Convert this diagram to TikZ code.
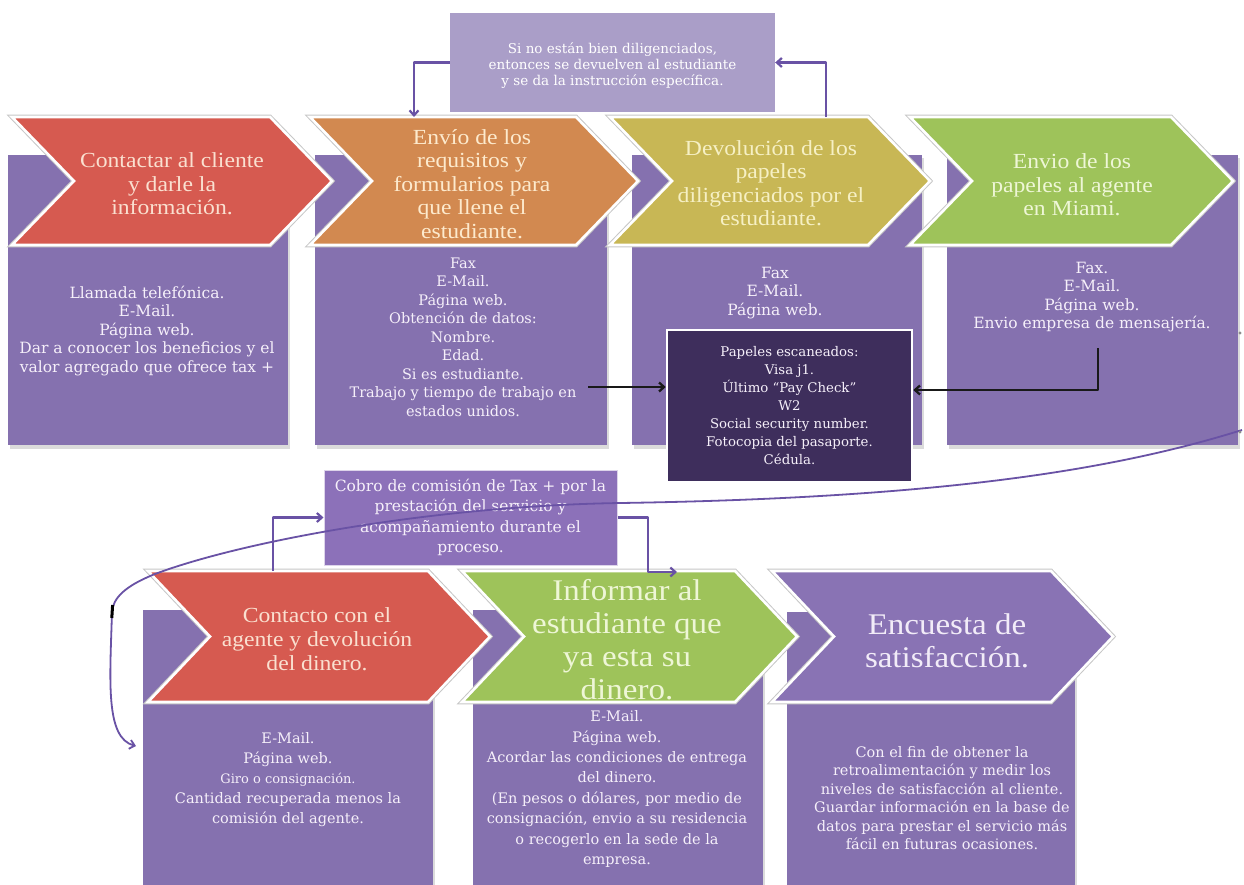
\documentclass[tikz,border=0pt]{standalone}
\usepackage{fontspec}
\setmainfont{DejaVu Serif}
\newfontfamily\titlefont[FakeStretch=1.1]{Liberation Serif}
\newfontfamily\bodyfont{DejaVu Serif}
\usetikzlibrary{arrows.meta}
\definecolor{pbody}{RGB}{133,113,175}
\definecolor{ppurple}{RGB}{137,115,180}
\definecolor{cred}{RGB}{214,90,80}
\definecolor{corange}{RGB}{210,137,80}
\definecolor{cyellow}{RGB}{200,183,85}
\definecolor{cgreen}{RGB}{158,195,90}
\definecolor{ltop}{RGB}{170,158,200}
\definecolor{cobroc}{RGB}{140,113,185}
\definecolor{darkc}{RGB}{62,46,92}
\definecolor{connc}{RGB}{105,82,165}
\definecolor{tred}{RGB}{250,224,208}
\definecolor{torange}{RGB}{253,234,205}
\definecolor{tyellow}{RGB}{246,240,196}
\definecolor{tgreen}{RGB}{238,246,214}
\definecolor{tpurple}{RGB}{242,236,248}
\definecolor{btext}{RGB}{246,240,250}
\newcommand\prect[4]{%
  \fill[black!14] ({#1+2},{#2+3}) rectangle ({#3+2},{#4+4});
  \fill[pbody] (#1,#2) rectangle (#3,#4);}
\newcommand\chev[5]{%
  \path[draw=black!22, line width=4.6pt, line join=miter] (#1,#3) -- ({#2-62},#3) -- (#2,{(#3+#4)/2}) -- ({#2-62},#4) -- (#1,#4) -- ({#1+62},{(#3+#4)/2}) -- cycle;
  \path[fill=#5, draw=white, line width=2.6pt, line join=miter] (#1,#3) -- ({#2-62},#3) -- (#2,{(#3+#4)/2}) -- ({#2-62},#4) -- (#1,#4) -- ({#1+62},{(#3+#4)/2}) -- cycle;}
\begin{document}
\begin{tikzpicture}[x=1pt,y=-1pt,
  conn/.style={draw=connc, line width=2.2pt, line join=round},
  parr/.style={conn, -{Straight Barb[length=5pt,width=9pt]}},
  barr/.style={draw=black!90, line width=2.3pt, line join=round, -{Straight Barb[length=5pt,width=9pt]}},
  ttl/.style={align=center, inner sep=0pt, font=\titlefont\fontsize{21.5}{23.5}\selectfont},
  bigttl/.style={align=center, inner sep=0pt, font=\titlefont\fontsize{30}{33}\selectfont},
  bt/.style={align=center, inner sep=0pt, text=btext, font=\bodyfont\fontsize{14.5}{18.5}\selectfont},
  btl/.style={bt, font=\bodyfont\fontsize{15.5}{18.5}\selectfont},
  topbox/.style={fill=ltop, minimum width=325pt, minimum height=99pt, inner sep=0pt},
  toptext/.style={align=center, inner sep=0pt, text=white, font=\bodyfont\fontsize{13.5}{16}\selectfont},
  darkbox/.style={fill=darkc, draw=white, line width=2.5pt, minimum width=245pt, minimum height=152pt, inner sep=0pt, align=center, text=btext, font=\bodyfont\fontsize{13.3}{18}\selectfont},
  cobrobox/.style={fill=cobroc, draw=white!70!cobroc, line width=1pt, minimum width=293pt, minimum height=95pt, inner sep=0pt, align=center, text=btext, font=\bodyfont\fontsize{15.5}{20.5}\selectfont},
]
\useasboundingbox (0,0) rectangle (1244,884);
\fill[white] (0,0) rectangle (1244,884);

% purple bodies, row 1
\prect{8}{155}{288}{445}
\prect{315}{155}{607}{445}
\prect{632}{155}{922}{445}
\prect{947}{155}{1238}{445}
% purple bodies, row 2
\prect{143}{610}{433}{890}
\prect{473}{610}{763}{890}
\prect{787}{612}{1075}{890}

% chevrons row 1
\chev{12}{332}{117}{245}{cred}
\chev{310}{638}{117}{245}{corange}
\chev{610}{930}{117}{245}{cyellow}
\chev{910}{1233}{117}{245}{cgreen}
% chevrons row 2
\chev{148}{490}{571}{702}{cred}
\chev{462}{797}{571}{702}{cgreen}
\chev{772}{1113}{571}{702}{ppurple}

% titles row 1
\node[ttl, text=tred] (t1) at (172,184) {Contactar al cliente\\ y darle la\\ información.};
\node[ttl, text=torange] (t2) at (472,184) {Envío de los\\ requisitos y\\ formularios para\\ que llene el\\ estudiante.};
\node[ttl, text=tyellow] (t3) at (771,183) {Devolución de los\\ papeles\\ diligenciados por el\\ estudiante.};
\node[ttl, text=tgreen] (t4) at (1072,185) {Envio de los\\ papeles al agente\\ en Miami.};

% bodies row 1
\node[btl] (b1) at (147,331) {Llamada telefónica.\\ E-Mail.\\ Página web.\\ Dar a conocer los beneficios y el\\ valor agregado que ofrece tax +};
\node[bt] (b2) at (463,337) {Fax\\ E-Mail.\\ Página web.\\ Obtención de datos:\\ Nombre.\\ Edad.\\ Si es estudiante.\\ Trabajo y tiempo de trabajo en\\ estados unidos.};
\node[btl] (b3) at (775,293) {Fax\\ E-Mail.\\ Página web.};
\node[btl] (b4) at (1092,297) {Fax.\\ E-Mail.\\ Página web.\\ Envio empresa de mensajería.};

% top box
\node[topbox] (tb) at (612.5,62.5) {};
\node[toptext] (tbt) at (612.5,66) {Si no están bien diligenciados,\\ entonces se devuelven al estudiante\\ y se da la instrucción específica.};
\coordinate (c2in) at (414,117);
\coordinate (c3out) at (826,117);
\draw[parr] (tb.west) -| (c2in);
\draw[parr] (c3out) |- (tb.east);

% dark box
\node[darkbox] (db) at (789.5,406) {Papeles escaneados:\\ Visa j1.\\ Último “Pay Check”\\ W2\\ Social security number.\\ Fotocopia del pasaporte.\\ Cédula.};
\coordinate (s1) at (588,387);
\draw[barr] (s1) -- (s1 -| db.west);
\coordinate (s2) at (1098,348);
\coordinate (s2b) at (1098,390);
\draw[barr] (s2) -- (s2b) -- (s2b -| db.east);

% titles row 2
\node[ttl, text=tred, font=\titlefont\fontsize{21.5}{24}\selectfont] (t5) at (317,639) {Contacto con el\\ agente y devolución\\ del dinero.};
\node[bigttl, text=tgreen] (t6) at (627,640) {Informar al\\ estudiante que\\ ya esta su\\ dinero.};
\node[bigttl, text=tpurple] (t7) at (947,641) {Encuesta de\\ satisfacción.};

% bodies row 2
\node[bt, font=\bodyfont\fontsize{14.5}{20}\selectfont] (b5) at (288,780) {E-Mail.\\ Página web.\\ {\fontsize{13}{20}\selectfont Giro o consignación.}\\ Cantidad recuperada menos la\\ comisión del agente.};
\node[bt, font=\bodyfont\fontsize{14.5}{20.4}\selectfont] (b6) at (617,789) {E-Mail.\\ Página web.\\ Acordar las condiciones de entrega\\ del dinero.\\ (En pesos o dólares, por medio de\\ consignación, envio a su residencia\\ o recogerlo en la sede de la\\ empresa.};
\node[bt] (b7) at (942,798) {Con el fin de obtener la\\ retroalimentación y medir los\\ niveles de satisfacción al cliente.\\ Guardar información en la base de\\ datos para prestar el servicio más\\ fácil en futuras ocasiones.};

% cobro box
\node[cobrobox] (cb) at (470.5,517.5) {Cobro de comisión de Tax + por la\\ prestación del servicio y\\ acompañamiento durante el\\ proceso.};
\coordinate (c5out) at (273,571);
\draw[parr] (c5out) |- (cb.west);
\coordinate (k6) at (648,572);
\coordinate (c6in) at (677,572);
\draw[parr] (cb.east) -| (k6) -- (c6in);

% long return curve
\coordinate (cvs) at (1242,430);
\coordinate (cve) at (136,746);
\draw[conn, line width=1.8pt, -{Straight Barb[length=5pt,width=9pt]}] (cvs) .. controls (1120,468) and (950,498) .. (620,503) .. controls (430,506) and (240,542) .. (155,574) .. controls (125,586) and (113,598) .. (112,612) .. controls (110,680) and (105,738) .. (cve);
\draw[black, line width=3pt] (112.6,605) -- (111.8,618);
\fill[black!45] (1240,333) circle (1.6pt);
\fill[black!45] (1240,432) circle (1.6pt);
\end{tikzpicture}
\end{document}
